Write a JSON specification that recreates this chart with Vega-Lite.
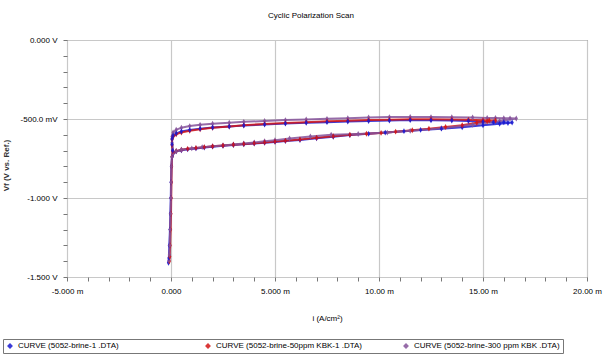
{
  "$schema": "https://vega.github.io/schema/vega-lite/v6.json",
  "autosize": {"type": "none"},
  "padding": {"left": 67, "top": 40, "right": 23, "bottom": 80},
  "width": 520,
  "height": 237,
  "background": "white",
  "title": {"text": "Cyclic Polarization Scan", "fontSize": 8, "fontWeight": "normal", "font": "Liberation Sans", "color": "#000", "offset": 16, "dx": -16},
  "config": {
    "view": {"stroke": "#555", "strokeWidth": 1},
    "font": "Liberation Sans"
  },
  "datasets": {
    "scan": [
      {"curve": "CURVE (5052-brine-1 .DTA)", "seq": 1, "i": -0.12, "v": -1410},
      {"curve": "CURVE (5052-brine-1 .DTA)", "seq": 2, "i": -0.1, "v": -1380},
      {"curve": "CURVE (5052-brine-1 .DTA)", "seq": 3, "i": -0.08, "v": -1300},
      {"curve": "CURVE (5052-brine-1 .DTA)", "seq": 4, "i": -0.05, "v": -1200},
      {"curve": "CURVE (5052-brine-1 .DTA)", "seq": 5, "i": -0.03, "v": -1100},
      {"curve": "CURVE (5052-brine-1 .DTA)", "seq": 6, "i": -0.01, "v": -1000},
      {"curve": "CURVE (5052-brine-1 .DTA)", "seq": 7, "i": 0.0, "v": -900},
      {"curve": "CURVE (5052-brine-1 .DTA)", "seq": 8, "i": 0.02, "v": -800},
      {"curve": "CURVE (5052-brine-1 .DTA)", "seq": 9, "i": 0.05, "v": -740},
      {"curve": "CURVE (5052-brine-1 .DTA)", "seq": 10, "i": 0.1, "v": -720},
      {"curve": "CURVE (5052-brine-1 .DTA)", "seq": 11, "i": 0.25, "v": -705},
      {"curve": "CURVE (5052-brine-1 .DTA)", "seq": 12, "i": 0.5, "v": -698},
      {"curve": "CURVE (5052-brine-1 .DTA)", "seq": 13, "i": 0.8, "v": -692},
      {"curve": "CURVE (5052-brine-1 .DTA)", "seq": 14, "i": 1.2, "v": -686},
      {"curve": "CURVE (5052-brine-1 .DTA)", "seq": 15, "i": 1.6, "v": -680},
      {"curve": "CURVE (5052-brine-1 .DTA)", "seq": 16, "i": 2.0, "v": -675},
      {"curve": "CURVE (5052-brine-1 .DTA)", "seq": 17, "i": 2.5, "v": -670},
      {"curve": "CURVE (5052-brine-1 .DTA)", "seq": 18, "i": 3.0, "v": -665},
      {"curve": "CURVE (5052-brine-1 .DTA)", "seq": 19, "i": 3.5, "v": -660},
      {"curve": "CURVE (5052-brine-1 .DTA)", "seq": 20, "i": 4.0, "v": -655},
      {"curve": "CURVE (5052-brine-1 .DTA)", "seq": 21, "i": 4.5, "v": -650},
      {"curve": "CURVE (5052-brine-1 .DTA)", "seq": 22, "i": 5.0, "v": -645},
      {"curve": "CURVE (5052-brine-1 .DTA)", "seq": 23, "i": 5.5, "v": -640},
      {"curve": "CURVE (5052-brine-1 .DTA)", "seq": 24, "i": 6.2, "v": -633},
      {"curve": "CURVE (5052-brine-1 .DTA)", "seq": 25, "i": 7.0, "v": -622},
      {"curve": "CURVE (5052-brine-1 .DTA)", "seq": 26, "i": 7.8, "v": -612},
      {"curve": "CURVE (5052-brine-1 .DTA)", "seq": 27, "i": 8.6, "v": -602},
      {"curve": "CURVE (5052-brine-1 .DTA)", "seq": 28, "i": 9.5, "v": -594},
      {"curve": "CURVE (5052-brine-1 .DTA)", "seq": 29, "i": 10.3, "v": -586},
      {"curve": "CURVE (5052-brine-1 .DTA)", "seq": 30, "i": 11.2, "v": -577},
      {"curve": "CURVE (5052-brine-1 .DTA)", "seq": 31, "i": 12.0, "v": -569},
      {"curve": "CURVE (5052-brine-1 .DTA)", "seq": 32, "i": 13.0, "v": -561},
      {"curve": "CURVE (5052-brine-1 .DTA)", "seq": 33, "i": 14.0, "v": -552},
      {"curve": "CURVE (5052-brine-1 .DTA)", "seq": 34, "i": 15.0, "v": -540},
      {"curve": "CURVE (5052-brine-1 .DTA)", "seq": 35, "i": 15.8, "v": -530},
      {"curve": "CURVE (5052-brine-1 .DTA)", "seq": 36, "i": 16.2, "v": -525},
      {"curve": "CURVE (5052-brine-1 .DTA)", "seq": 37, "i": 16.4, "v": -522},
      {"curve": "CURVE (5052-brine-1 .DTA)", "seq": 38, "i": 16.0, "v": -521},
      {"curve": "CURVE (5052-brine-1 .DTA)", "seq": 39, "i": 15.5, "v": -520},
      {"curve": "CURVE (5052-brine-1 .DTA)", "seq": 40, "i": 15.0, "v": -517},
      {"curve": "CURVE (5052-brine-1 .DTA)", "seq": 41, "i": 14.3, "v": -513},
      {"curve": "CURVE (5052-brine-1 .DTA)", "seq": 42, "i": 13.5, "v": -510},
      {"curve": "CURVE (5052-brine-1 .DTA)", "seq": 43, "i": 12.5, "v": -508},
      {"curve": "CURVE (5052-brine-1 .DTA)", "seq": 44, "i": 11.5, "v": -507},
      {"curve": "CURVE (5052-brine-1 .DTA)", "seq": 45, "i": 10.5, "v": -510},
      {"curve": "CURVE (5052-brine-1 .DTA)", "seq": 46, "i": 9.5, "v": -513},
      {"curve": "CURVE (5052-brine-1 .DTA)", "seq": 47, "i": 8.5, "v": -516},
      {"curve": "CURVE (5052-brine-1 .DTA)", "seq": 48, "i": 7.5, "v": -520},
      {"curve": "CURVE (5052-brine-1 .DTA)", "seq": 49, "i": 6.5, "v": -524},
      {"curve": "CURVE (5052-brine-1 .DTA)", "seq": 50, "i": 5.5, "v": -529},
      {"curve": "CURVE (5052-brine-1 .DTA)", "seq": 51, "i": 4.5, "v": -535},
      {"curve": "CURVE (5052-brine-1 .DTA)", "seq": 52, "i": 3.5, "v": -541},
      {"curve": "CURVE (5052-brine-1 .DTA)", "seq": 53, "i": 2.8, "v": -547},
      {"curve": "CURVE (5052-brine-1 .DTA)", "seq": 54, "i": 2.0, "v": -554},
      {"curve": "CURVE (5052-brine-1 .DTA)", "seq": 55, "i": 1.4, "v": -561},
      {"curve": "CURVE (5052-brine-1 .DTA)", "seq": 56, "i": 0.9, "v": -569},
      {"curve": "CURVE (5052-brine-1 .DTA)", "seq": 57, "i": 0.5, "v": -579},
      {"curve": "CURVE (5052-brine-1 .DTA)", "seq": 58, "i": 0.25, "v": -591},
      {"curve": "CURVE (5052-brine-1 .DTA)", "seq": 59, "i": 0.1, "v": -606},
      {"curve": "CURVE (5052-brine-1 .DTA)", "seq": 60, "i": 0.05, "v": -625},
      {"curve": "CURVE (5052-brine-1 .DTA)", "seq": 61, "i": 0.05, "v": -660},
      {"curve": "CURVE (5052-brine-1 .DTA)", "seq": 62, "i": 0.08, "v": -700},

      {"curve": "CURVE (5052-brine-50ppm KBK-1 .DTA)", "seq": 1, "i": -0.08, "v": -1400},
      {"curve": "CURVE (5052-brine-50ppm KBK-1 .DTA)", "seq": 2, "i": -0.06, "v": -1370},
      {"curve": "CURVE (5052-brine-50ppm KBK-1 .DTA)", "seq": 3, "i": -0.04, "v": -1300},
      {"curve": "CURVE (5052-brine-50ppm KBK-1 .DTA)", "seq": 4, "i": -0.02, "v": -1200},
      {"curve": "CURVE (5052-brine-50ppm KBK-1 .DTA)", "seq": 5, "i": 0.0, "v": -1100},
      {"curve": "CURVE (5052-brine-50ppm KBK-1 .DTA)", "seq": 6, "i": 0.01, "v": -1000},
      {"curve": "CURVE (5052-brine-50ppm KBK-1 .DTA)", "seq": 7, "i": 0.02, "v": -900},
      {"curve": "CURVE (5052-brine-50ppm KBK-1 .DTA)", "seq": 8, "i": 0.03, "v": -800},
      {"curve": "CURVE (5052-brine-50ppm KBK-1 .DTA)", "seq": 9, "i": 0.05, "v": -738},
      {"curve": "CURVE (5052-brine-50ppm KBK-1 .DTA)", "seq": 10, "i": 0.1, "v": -715},
      {"curve": "CURVE (5052-brine-50ppm KBK-1 .DTA)", "seq": 11, "i": 0.25, "v": -703},
      {"curve": "CURVE (5052-brine-50ppm KBK-1 .DTA)", "seq": 12, "i": 0.5, "v": -695},
      {"curve": "CURVE (5052-brine-50ppm KBK-1 .DTA)", "seq": 13, "i": 0.8, "v": -689},
      {"curve": "CURVE (5052-brine-50ppm KBK-1 .DTA)", "seq": 14, "i": 1.2, "v": -683},
      {"curve": "CURVE (5052-brine-50ppm KBK-1 .DTA)", "seq": 15, "i": 1.6, "v": -678},
      {"curve": "CURVE (5052-brine-50ppm KBK-1 .DTA)", "seq": 16, "i": 2.0, "v": -673},
      {"curve": "CURVE (5052-brine-50ppm KBK-1 .DTA)", "seq": 17, "i": 2.5, "v": -668},
      {"curve": "CURVE (5052-brine-50ppm KBK-1 .DTA)", "seq": 18, "i": 3.0, "v": -663},
      {"curve": "CURVE (5052-brine-50ppm KBK-1 .DTA)", "seq": 19, "i": 3.5, "v": -658},
      {"curve": "CURVE (5052-brine-50ppm KBK-1 .DTA)", "seq": 20, "i": 4.0, "v": -653},
      {"curve": "CURVE (5052-brine-50ppm KBK-1 .DTA)", "seq": 21, "i": 4.5, "v": -648},
      {"curve": "CURVE (5052-brine-50ppm KBK-1 .DTA)", "seq": 22, "i": 5.0, "v": -643},
      {"curve": "CURVE (5052-brine-50ppm KBK-1 .DTA)", "seq": 23, "i": 5.5, "v": -637},
      {"curve": "CURVE (5052-brine-50ppm KBK-1 .DTA)", "seq": 24, "i": 6.2, "v": -629},
      {"curve": "CURVE (5052-brine-50ppm KBK-1 .DTA)", "seq": 25, "i": 7.0, "v": -619},
      {"curve": "CURVE (5052-brine-50ppm KBK-1 .DTA)", "seq": 26, "i": 7.8, "v": -609},
      {"curve": "CURVE (5052-brine-50ppm KBK-1 .DTA)", "seq": 27, "i": 8.6, "v": -600},
      {"curve": "CURVE (5052-brine-50ppm KBK-1 .DTA)", "seq": 28, "i": 9.4, "v": -593},
      {"curve": "CURVE (5052-brine-50ppm KBK-1 .DTA)", "seq": 29, "i": 10.1, "v": -588},
      {"curve": "CURVE (5052-brine-50ppm KBK-1 .DTA)", "seq": 30, "i": 10.8, "v": -580},
      {"curve": "CURVE (5052-brine-50ppm KBK-1 .DTA)", "seq": 31, "i": 11.6, "v": -571},
      {"curve": "CURVE (5052-brine-50ppm KBK-1 .DTA)", "seq": 32, "i": 12.4, "v": -561},
      {"curve": "CURVE (5052-brine-50ppm KBK-1 .DTA)", "seq": 33, "i": 13.2, "v": -551},
      {"curve": "CURVE (5052-brine-50ppm KBK-1 .DTA)", "seq": 34, "i": 14.0, "v": -540},
      {"curve": "CURVE (5052-brine-50ppm KBK-1 .DTA)", "seq": 35, "i": 14.7, "v": -524},
      {"curve": "CURVE (5052-brine-50ppm KBK-1 .DTA)", "seq": 36, "i": 15.2, "v": -514},
      {"curve": "CURVE (5052-brine-50ppm KBK-1 .DTA)", "seq": 37, "i": 15.6, "v": -510},
      {"curve": "CURVE (5052-brine-50ppm KBK-1 .DTA)", "seq": 38, "i": 15.3, "v": -509},
      {"curve": "CURVE (5052-brine-50ppm KBK-1 .DTA)", "seq": 39, "i": 15.0, "v": -508},
      {"curve": "CURVE (5052-brine-50ppm KBK-1 .DTA)", "seq": 40, "i": 14.3, "v": -505},
      {"curve": "CURVE (5052-brine-50ppm KBK-1 .DTA)", "seq": 41, "i": 13.5, "v": -503},
      {"curve": "CURVE (5052-brine-50ppm KBK-1 .DTA)", "seq": 42, "i": 12.5, "v": -502},
      {"curve": "CURVE (5052-brine-50ppm KBK-1 .DTA)", "seq": 43, "i": 11.5, "v": -502},
      {"curve": "CURVE (5052-brine-50ppm KBK-1 .DTA)", "seq": 44, "i": 10.5, "v": -504},
      {"curve": "CURVE (5052-brine-50ppm KBK-1 .DTA)", "seq": 45, "i": 9.5, "v": -507},
      {"curve": "CURVE (5052-brine-50ppm KBK-1 .DTA)", "seq": 46, "i": 8.5, "v": -511},
      {"curve": "CURVE (5052-brine-50ppm KBK-1 .DTA)", "seq": 47, "i": 7.5, "v": -515},
      {"curve": "CURVE (5052-brine-50ppm KBK-1 .DTA)", "seq": 48, "i": 6.5, "v": -520},
      {"curve": "CURVE (5052-brine-50ppm KBK-1 .DTA)", "seq": 49, "i": 5.5, "v": -525},
      {"curve": "CURVE (5052-brine-50ppm KBK-1 .DTA)", "seq": 50, "i": 4.5, "v": -531},
      {"curve": "CURVE (5052-brine-50ppm KBK-1 .DTA)", "seq": 51, "i": 3.5, "v": -540},
      {"curve": "CURVE (5052-brine-50ppm KBK-1 .DTA)", "seq": 52, "i": 2.8, "v": -547},
      {"curve": "CURVE (5052-brine-50ppm KBK-1 .DTA)", "seq": 53, "i": 2.0, "v": -556},
      {"curve": "CURVE (5052-brine-50ppm KBK-1 .DTA)", "seq": 54, "i": 1.4, "v": -565},
      {"curve": "CURVE (5052-brine-50ppm KBK-1 .DTA)", "seq": 55, "i": 0.9, "v": -575},
      {"curve": "CURVE (5052-brine-50ppm KBK-1 .DTA)", "seq": 56, "i": 0.5, "v": -585},
      {"curve": "CURVE (5052-brine-50ppm KBK-1 .DTA)", "seq": 57, "i": 0.25, "v": -597},
      {"curve": "CURVE (5052-brine-50ppm KBK-1 .DTA)", "seq": 58, "i": 0.1, "v": -612},
      {"curve": "CURVE (5052-brine-50ppm KBK-1 .DTA)", "seq": 59, "i": 0.05, "v": -630},
      {"curve": "CURVE (5052-brine-50ppm KBK-1 .DTA)", "seq": 60, "i": 0.05, "v": -665},
      {"curve": "CURVE (5052-brine-50ppm KBK-1 .DTA)", "seq": 61, "i": 0.08, "v": -705},

      {"curve": "CURVE (5052-brine-300 ppm KBK .DTA)", "seq": 1, "i": -0.1, "v": -1395},
      {"curve": "CURVE (5052-brine-300 ppm KBK .DTA)", "seq": 2, "i": -0.08, "v": -1360},
      {"curve": "CURVE (5052-brine-300 ppm KBK .DTA)", "seq": 3, "i": -0.06, "v": -1300},
      {"curve": "CURVE (5052-brine-300 ppm KBK .DTA)", "seq": 4, "i": -0.04, "v": -1200},
      {"curve": "CURVE (5052-brine-300 ppm KBK .DTA)", "seq": 5, "i": -0.02, "v": -1100},
      {"curve": "CURVE (5052-brine-300 ppm KBK .DTA)", "seq": 6, "i": 0.0, "v": -1000},
      {"curve": "CURVE (5052-brine-300 ppm KBK .DTA)", "seq": 7, "i": 0.01, "v": -900},
      {"curve": "CURVE (5052-brine-300 ppm KBK .DTA)", "seq": 8, "i": 0.02, "v": -800},
      {"curve": "CURVE (5052-brine-300 ppm KBK .DTA)", "seq": 9, "i": 0.05, "v": -740},
      {"curve": "CURVE (5052-brine-300 ppm KBK .DTA)", "seq": 10, "i": 0.1, "v": -718},
      {"curve": "CURVE (5052-brine-300 ppm KBK .DTA)", "seq": 11, "i": 0.25, "v": -704},
      {"curve": "CURVE (5052-brine-300 ppm KBK .DTA)", "seq": 12, "i": 0.5, "v": -695},
      {"curve": "CURVE (5052-brine-300 ppm KBK .DTA)", "seq": 13, "i": 1.0, "v": -686},
      {"curve": "CURVE (5052-brine-300 ppm KBK .DTA)", "seq": 14, "i": 1.5, "v": -678},
      {"curve": "CURVE (5052-brine-300 ppm KBK .DTA)", "seq": 15, "i": 2.0, "v": -672},
      {"curve": "CURVE (5052-brine-300 ppm KBK .DTA)", "seq": 16, "i": 2.5, "v": -667},
      {"curve": "CURVE (5052-brine-300 ppm KBK .DTA)", "seq": 17, "i": 3.0, "v": -661},
      {"curve": "CURVE (5052-brine-300 ppm KBK .DTA)", "seq": 18, "i": 3.5, "v": -655},
      {"curve": "CURVE (5052-brine-300 ppm KBK .DTA)", "seq": 19, "i": 4.0, "v": -648},
      {"curve": "CURVE (5052-brine-300 ppm KBK .DTA)", "seq": 20, "i": 4.5, "v": -641},
      {"curve": "CURVE (5052-brine-300 ppm KBK .DTA)", "seq": 21, "i": 5.0, "v": -634},
      {"curve": "CURVE (5052-brine-300 ppm KBK .DTA)", "seq": 22, "i": 5.7, "v": -623},
      {"curve": "CURVE (5052-brine-300 ppm KBK .DTA)", "seq": 23, "i": 6.7, "v": -610},
      {"curve": "CURVE (5052-brine-300 ppm KBK .DTA)", "seq": 24, "i": 7.7, "v": -600},
      {"curve": "CURVE (5052-brine-300 ppm KBK .DTA)", "seq": 25, "i": 9.0, "v": -595},
      {"curve": "CURVE (5052-brine-300 ppm KBK .DTA)", "seq": 26, "i": 10.4, "v": -586},
      {"curve": "CURVE (5052-brine-300 ppm KBK .DTA)", "seq": 27, "i": 11.5, "v": -575},
      {"curve": "CURVE (5052-brine-300 ppm KBK .DTA)", "seq": 28, "i": 13.0, "v": -559},
      {"curve": "CURVE (5052-brine-300 ppm KBK .DTA)", "seq": 29, "i": 14.5, "v": -537},
      {"curve": "CURVE (5052-brine-300 ppm KBK .DTA)", "seq": 30, "i": 15.8, "v": -512},
      {"curve": "CURVE (5052-brine-300 ppm KBK .DTA)", "seq": 31, "i": 16.6, "v": -497},
      {"curve": "CURVE (5052-brine-300 ppm KBK .DTA)", "seq": 32, "i": 16.3, "v": -496},
      {"curve": "CURVE (5052-brine-300 ppm KBK .DTA)", "seq": 33, "i": 16.0, "v": -495},
      {"curve": "CURVE (5052-brine-300 ppm KBK .DTA)", "seq": 34, "i": 15.6, "v": -494},
      {"curve": "CURVE (5052-brine-300 ppm KBK .DTA)", "seq": 35, "i": 15.2, "v": -493},
      {"curve": "CURVE (5052-brine-300 ppm KBK .DTA)", "seq": 36, "i": 14.5, "v": -491},
      {"curve": "CURVE (5052-brine-300 ppm KBK .DTA)", "seq": 37, "i": 13.5, "v": -489},
      {"curve": "CURVE (5052-brine-300 ppm KBK .DTA)", "seq": 38, "i": 12.5, "v": -488},
      {"curve": "CURVE (5052-brine-300 ppm KBK .DTA)", "seq": 39, "i": 11.5, "v": -487},
      {"curve": "CURVE (5052-brine-300 ppm KBK .DTA)", "seq": 40, "i": 10.5, "v": -488},
      {"curve": "CURVE (5052-brine-300 ppm KBK .DTA)", "seq": 41, "i": 9.5, "v": -491},
      {"curve": "CURVE (5052-brine-300 ppm KBK .DTA)", "seq": 42, "i": 8.5, "v": -495},
      {"curve": "CURVE (5052-brine-300 ppm KBK .DTA)", "seq": 43, "i": 7.5, "v": -499},
      {"curve": "CURVE (5052-brine-300 ppm KBK .DTA)", "seq": 44, "i": 6.5, "v": -503},
      {"curve": "CURVE (5052-brine-300 ppm KBK .DTA)", "seq": 45, "i": 5.5, "v": -507},
      {"curve": "CURVE (5052-brine-300 ppm KBK .DTA)", "seq": 46, "i": 4.5, "v": -512},
      {"curve": "CURVE (5052-brine-300 ppm KBK .DTA)", "seq": 47, "i": 3.5, "v": -518},
      {"curve": "CURVE (5052-brine-300 ppm KBK .DTA)", "seq": 48, "i": 2.8, "v": -523},
      {"curve": "CURVE (5052-brine-300 ppm KBK .DTA)", "seq": 49, "i": 2.0, "v": -530},
      {"curve": "CURVE (5052-brine-300 ppm KBK .DTA)", "seq": 50, "i": 1.4, "v": -537},
      {"curve": "CURVE (5052-brine-300 ppm KBK .DTA)", "seq": 51, "i": 0.9, "v": -545},
      {"curve": "CURVE (5052-brine-300 ppm KBK .DTA)", "seq": 52, "i": 0.5, "v": -555},
      {"curve": "CURVE (5052-brine-300 ppm KBK .DTA)", "seq": 53, "i": 0.25, "v": -568},
      {"curve": "CURVE (5052-brine-300 ppm KBK .DTA)", "seq": 54, "i": 0.1, "v": -585},
      {"curve": "CURVE (5052-brine-300 ppm KBK .DTA)", "seq": 55, "i": 0.05, "v": -610},
      {"curve": "CURVE (5052-brine-300 ppm KBK .DTA)", "seq": 56, "i": 0.05, "v": -650},
      {"curve": "CURVE (5052-brine-300 ppm KBK .DTA)", "seq": 57, "i": 0.08, "v": -700}
    ]
  },
  "data": {"name": "scan"},
  "encoding": {
    "x": {
      "field": "i", "type": "quantitative",
      "scale": {"domain": [-5, 20], "nice": false, "zero": false},
      "axis": {
        "title": "i (A/cm²)",
        "values": [-5,-4,-3,-2,-1,0,1,2,3,4,5,6,7,8,9,10,11,12,13,14,15,16,17,18,19,20],
        "labelExpr": "datum.value == -5 ? '-5.000 m' : datum.value == 0 ? '0.000' : datum.value == 5 ? '5.000 m' : datum.value == 10 ? '10.00 m' : datum.value == 15 ? '15.00 m' : datum.value == 20 ? '20.00 m' : ''",
        "labelOverlap": false,
        "labelFlush": false,
        "labelFontSize": 8,
        "labelColor": "#000",
        "labelPadding": 6,
        "tickSize": 4,
        "tickColor": "#777",
        "domain": false,
        "grid": true,
        "gridColor": "#c8c8c8",
        "gridWidth": 1.2,
        "gridOpacity": {"condition": {"test": "datum.value % 5 == 0", "value": 1}, "value": 0},
        "titleFontSize": 8,
        "titleFontWeight": "normal",
        "titleColor": "#000",
        "titlePadding": 19
      }
    },
    "y": {
      "field": "v", "type": "quantitative",
      "scale": {"domain": [-1500, 0], "nice": false, "zero": false},
      "axis": {
        "title": "Vf (V vs. Ref.)",
        "values": [-1500,-1400,-1300,-1200,-1100,-1000,-900,-800,-700,-600,-500,-400,-300,-200,-100,0],
        "labelExpr": "datum.value == 0 ? '0.000 V' : datum.value == -500 ? '-500.0 mV' : datum.value == -1000 ? '-1.000 V' : datum.value == -1500 ? '-1.500 V' : ''",
        "labelOverlap": false,
        "labelFlush": false,
        "labelFontSize": 8,
        "labelColor": "#000",
        "labelPadding": 6,
        "tickSize": 4,
        "tickColor": "#777",
        "domain": false,
        "grid": true,
        "gridColor": "#c8c8c8",
        "gridWidth": 1.2,
        "gridOpacity": {"condition": {"test": "datum.value % 500 == 0", "value": 1}, "value": 0},
        "titleFontSize": 8,
        "titleFontWeight": "bold",
        "titleColor": "#333",
        "titlePadding": 10,
        "titleY": 125
      }
    },
    "color": {
      "field": "curve", "type": "nominal",
      "scale": {
        "domain": ["CURVE (5052-brine-1 .DTA)", "CURVE (5052-brine-50ppm KBK-1 .DTA)", "CURVE (5052-brine-300 ppm KBK .DTA)"],
        "range": ["#1a1ad0", "#d41515", "#85529a"]
      },
      "legend": {
        "title": null,
        "orient": "none",
        "legendX": -64,
        "legendY": 299,
        "direction": "horizontal",
        "columns": 3,
        "gridAlign": "all",
        "columnPadding": 40,
        "symbolType": "diamond",
        "symbolSize": 35,
        "symbolStrokeWidth": 0,
        "labelFontSize": 8,
        "labelColor": "#000",
        "labelLimit": 300,
        "labelOffset": 4,
        "strokeColor": "#777",
        "padding": 3
      }
    },
    "order": {"field": "seq", "type": "quantitative"}
  },
  "layer": [
    {"mark": {"type": "line", "strokeWidth": 2, "opacity": 0.85}},
    {"mark": {"type": "point", "filled": true, "shape": "M0,-1L0.55,0L0,1L-0.55,0Z", "size": 35, "opacity": 0.9}}
  ]
}
